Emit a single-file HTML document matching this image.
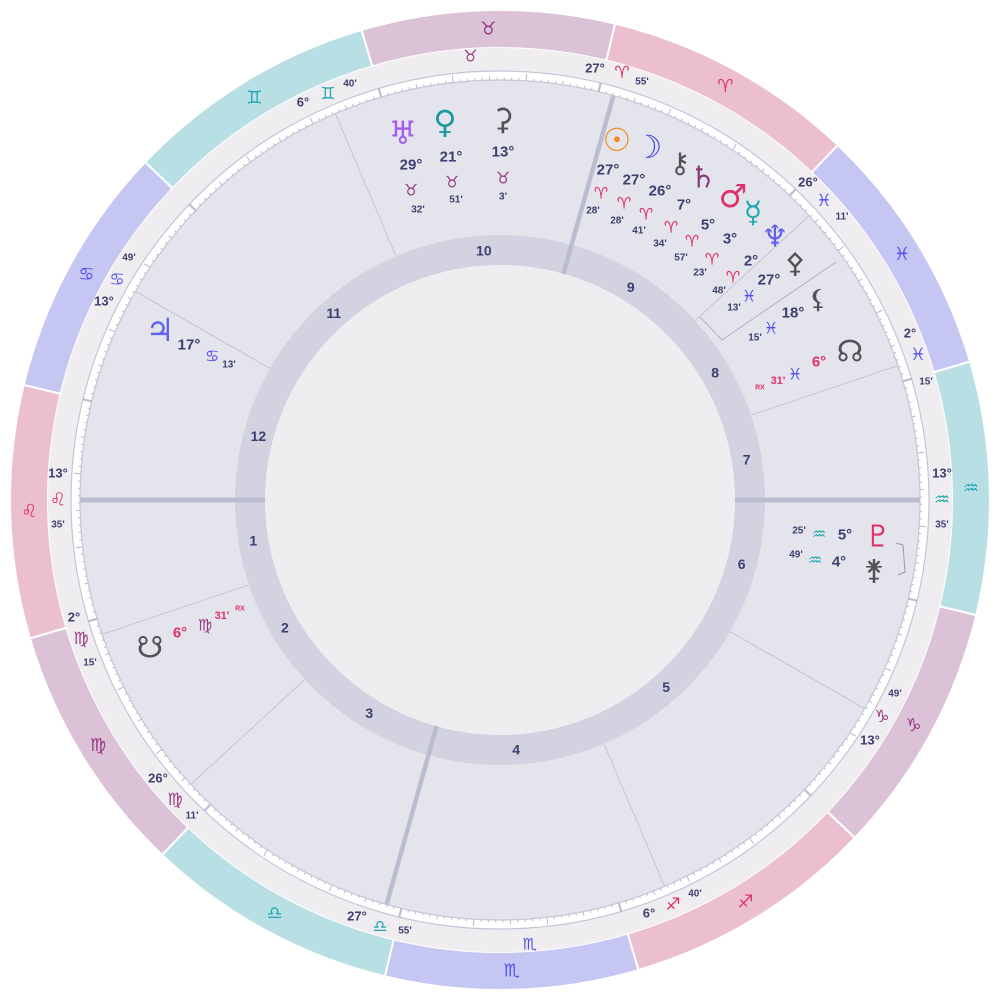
<!DOCTYPE html>
<html><head><meta charset="utf-8">
<style>
html,body{margin:0;padding:0;background:#fff;width:1000px;height:1000px;overflow:hidden}
svg{display:block}
text{font-family:"Liberation Sans","DejaVu Sans",sans-serif;font-weight:bold;fill:#3e3e70;text-anchor:middle;dominant-baseline:central}
.g{font-family:"DejaVu Sans",sans-serif;font-weight:bold}
</style></head><body>
<svg id="s" width="1000" height="1000" viewBox="0 0 1000 1000" xmlns="http://www.w3.org/2000/svg">
<circle cx="500" cy="500" r="490" fill="#efedef"/>
<g id="band"></g>
<circle cx="500" cy="500" r="452" fill="#efedef"/>
<circle cx="500" cy="500" r="429" fill="#fff" stroke="#c4c4d6" stroke-width="1.2"/>
<g id="ticks"></g>
<circle cx="500" cy="500" r="420" fill="#e4e4ec" stroke="#c4c4d6" stroke-width="1.2"/>
<g id="houses"></g>
<circle cx="500" cy="500" r="265" fill="#d2d2e0"/>
<circle cx="500" cy="500" r="235" fill="#efedef"/>
<g id="axes"></g>
<g id="labels"></g>
</svg>
<script>
var NS="http://www.w3.org/2000/svg";
function P(r,t){t=t*Math.PI/180;return [500+r*Math.cos(t),500-r*Math.sin(t)];}
function el(p,n,a,txt){var e=document.createElementNS(NS,n);for(var k in a)e.setAttribute(k,a[k]);if(txt!=null)e.textContent=txt;document.getElementById(p).appendChild(e);return e;}
var OFF=46.417;
var signs=["\u2648","\u2649","\u264A","\u264B","\u264C","\u264D","\u264E","\u264F","\u2650","\u2651","\u2652","\u2653"];
var fill=["#ecbfd0","#dcc2d6","#b7dfe4","#c6c6f2"];
var gcol=["#e0306a","#9a3a80","#20a8b0","#5050f0"];
for(var i=0;i<12;i++){
 var a1=i*30+OFF,a2=a1+30,R=490,r=452;
 var p1=P(R,a1),p2=P(R,a2),p3=P(r,a2),p4=P(r,a1);
 el("band","path",{d:"M"+p1+"A"+R+","+R+" 0 0,0 "+p2+"L"+p3+"A"+r+","+r+" 0 0,1 "+p4+"Z",fill:fill[i%4],stroke:"#fff","stroke-width":2});
 var c=P(471,a1+15);
 el("band","text",{x:c[0],y:c[1],class:"g","font-size":18,style:"fill:"+gcol[i%4]},signs[i]+"\uFE0E");
}
// ticks
for(var d=0;d<360;d++){
 var t=d+OFF,len=(d%30==0)?9:(d%10==0)?7:(d%5==0)?4:2.5;
 var a=P(420,t),b=P(420+len,t);
 el("ticks","line",{x1:a[0],y1:a[1],x2:b[0],y2:b[1],stroke:"#b8b8cc","stroke-width":(d%30==0)?2:1});
}
// houses
var cusps=[133.583,152.25,176.183,207.917,246.667,283.817,313.583,332.25,356.183,27.917,66.667,103.817];
var th=cusps.map(function(l){return l+OFF;});
for(var i=0;i<12;i++){
 var a=P(265,th[i]),b=P(420,th[i]);
 if(i%3!=0) el("houses","line",{x1:a[0],y1:a[1],x2:b[0],y2:b[1],stroke:"#c4c4d6","stroke-width":1});
 else {var a2=P(235,th[i]);el("axes","line",{x1:a2[0],y1:a2[1],x2:b[0],y2:b[1],stroke:"#bcbcd0","stroke-width":(i==0||i==6)?5:4.5});}
 var n=th[(i+1)%12];if(n<th[i])n+=360;var m=(th[i]+n)/2;var c=P(250,m);
 el("labels","text",{x:c[0],y:c[1],"font-size":14},String(i+1));
}
// intercepted sign glyphs in light ring
[1,7].forEach(function(i){var c=P(445,i*30+OFF+17.4);el("labels","text",{x:c[0],y:c[1],class:"g","font-size":16,style:"fill:"+gcol[i%4]},signs[i]+"\uFE0E");});
var D="#3e3e70",FR="#e0306a",EA="#9a3a80",AI="#20a8b0",WA="#5050f0",DK="#555058";
var L=[
[595,68,"27°",13,D],[622,73,"\u2648",17,FR,1],[642,82,"55'",10,D],
[303,102,"6°",13,D],[328,94,"\u264A",17,AI,1],[350,84,"40'",10,D],
[129,258,"49'",10,D],[117,280,"\u264B",17,WA,1],[104,301,"13°",13,D],
[58,473,"13°",13,D],[58,500,"\u264C",18,FR,1],[58,525,"35'",10,D],
[74,617,"2°",13,D],[81,639,"\u264D",17,EA,1],[90,663,"15'",10,D],
[158,778,"26°",13,D],[175,800,"\u264D",17,EA,1],[192,816,"11'",10,D],
[357,916,"27°",13,D],[380,927,"\u264E",17,AI,1],[405,931,"55'",10,D],
[649,913,"6°",13,D],[673,905,"\u2650",17,FR,1],[695,894,"40'",10,D],
[895,694,"49'",10,D],[882,717,"\u2651",17,EA,1],[870,740,"13°",13,D],
[942,473,"13°",13,D],[942,500,"\u2652",18,AI,1],[942,525,"35'",10,D],
[910,333,"2°",13,D],[918,355,"\u2653",17,WA,1],[926,382,"15'",10,D],
[808,182,"26°",13,D],[824,201,"\u2653",17,WA,1],[842,217,"11'",10,D],
[403,133,"\u2645",32,"#a45cf0",1],[411,165,"29°",15,D],[411,190,"\u2649",16,EA,1],[418,210,"32'",10,D],
[445,122,"\u2640",32,"#1a9aa0",1],[451,157,"21°",15,D],[452,182,"\u2649",16,EA,1],[456,200,"51'",10,D],
[503,120,"\u26B3",30,DK,1],[503,152,"13°",15,D],[503,178,"\u2649",16,EA,1],[503,197,"3'",10,D],
[617,140,"\u2609",32,"#f08a20",1],[608,170,"27°",15,D],[601,193,"\u2648",16,FR,1],[593,211,"28'",10,D],
[648,147,"\u263D",32,"#4848f0",1],[634,180,"27°",15,D],[624,203,"\u2648",16,FR,1],[617,221,"28'",10,D],
[680,163,"\u26B7",28,DK,1],[660,191,"26°",15,D],[646,214,"\u2648",16,FR,1],[639,231,"41'",10,D],
[703,178,"\u2644",30,"#8a3a7a",1],[684,205,"7°",15,D],[671,227,"\u2648",16,FR,1],[660,244,"34'",10,D],
[733,196,"\u2642",32,FR,1],[708,225,"5°",15,D],[692,241,"\u2648",16,FR,1],[681,258,"57'",10,D],
[753,213,"\u263F",30,AI,1],[730,239,"3°",15,D],[712,259,"\u2648",16,FR,1],[700,273,"23'",10,D],
[775,237,"\u2646",30,"#6060f0",1],[751,261,"2°",15,D],[733,277,"\u2648",16,FR,1],[719,291,"48'",10,D],
[795,263,"\u26B4",28,DK,1],[769,280,"27°",15,D],[749,296,"\u2653",16,WA,1],[734,308,"13'",10,D],
[818,300,"\u26B8",26,DK,1],[793,313,"18°",15,D],[771,328,"\u2653",16,WA,1],[755,338,"15'",10,D],
[850,352,"\u260A",30,DK,1],[819,362,"6°",15,FR],[795,374,"\u2653",16,WA,1],[778,381,"31'",11,FR],[760,388,"RX",7,FR],
[878,537,"\u2647",30,FR,1],[845,535,"5°",15,D],[819,534,"\u2652",16,AI,1],[799,531,"25'",10,D],
[874,570,"\u26B5",28,DK,1],[839,562,"4°",15,D],[815,560,"\u2652",16,AI,1],[796,555,"49'",10,D],
[160,330,"\u2643",32,"#6060f0",1],[189,345,"17°",15,D],[212,356,"\u264B",16,WA,1],[229,365,"13'",10,D],
[150,648,"\u260B",30,DK,1],[180,633,"6°",15,FR],[205,625,"\u264D",16,EA,1],[222,616,"31'",11,FR],[240,609,"RX",7,FR]
];
L.forEach(function(q){var a={x:q[0],y:q[1],"font-size":q[3],style:"fill:"+q[4]};if(q[5])a["class"]="g";el("labels","text",a,q[2]+(q[5]?"\uFE0E":""));});
el("labels","polyline",{points:"700,317 722,340 836,262",fill:"none",stroke:"#b0b0c4","stroke-width":1});
el("labels","polyline",{points:"896,543 903,545 905,572 898,575",fill:"none",stroke:"#9a9ab0","stroke-width":1});
</script>
</body></html>
